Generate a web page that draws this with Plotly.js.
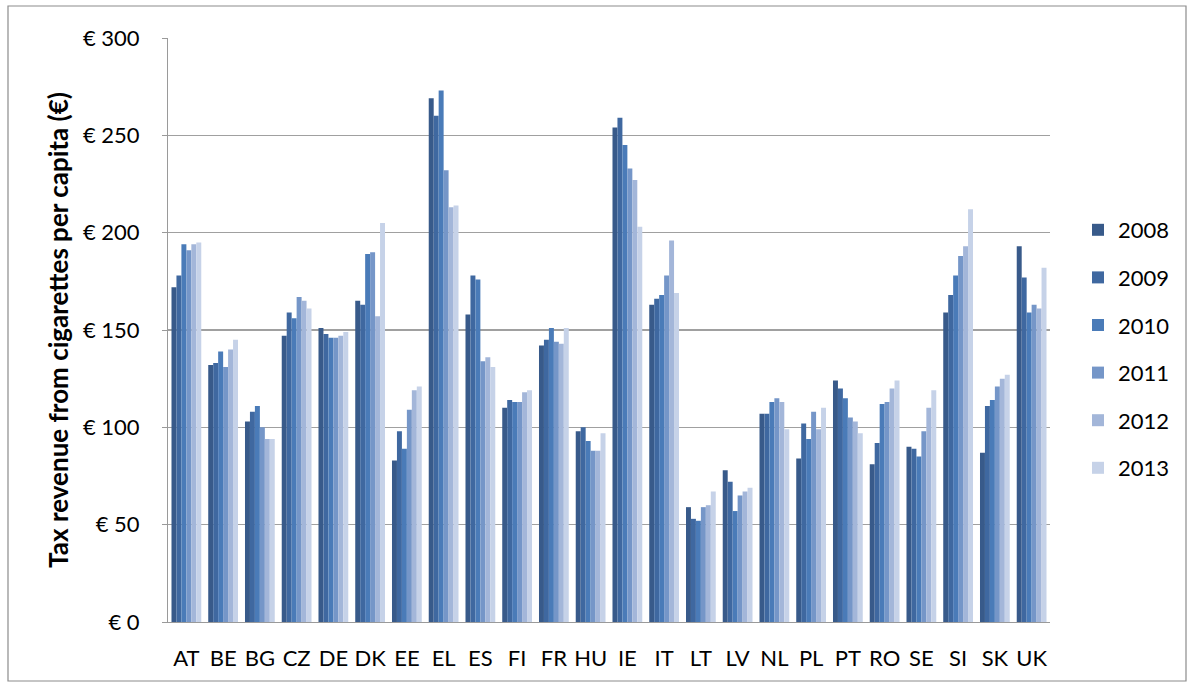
<!DOCTYPE html>
<html>
<head>
<meta charset="utf-8">
<script src="https://cdn.plot.ly/plotly-3.0.1.min.js"></script>
<style>
html,body{margin:0;padding:0;background:#fff;}
#chart{width:1192px;height:684px;}
</style>
</head>
<body>
<div id="chart"></div>
<script>
const countries = ["AT","BE","BG","CZ","DE","DK","EE","EL","ES","FI","FR","HU","IE","IT","LT","LV","NL","PL","PT","RO","SE","SI","SK","UK"];
const years = ["2008","2009","2010","2011","2012","2013"];

const v2008 = [172,132,103,147,151,165,83,269,158,110,142,98,254,163,59,78,107,84,124,81,90,159,87,193];
const v2009 = [178,133,108,159,148,163,98,260,178,114,145,100,259,166,53,72,107,102,120,92,89,168,111,177];
const v2010 = [194,139,111,156,146,189,89,273,176,113,151,93,245,168,52,57,113,94,115,112,85,178,114,159];
const v2011 = [191,131,100,167,146,190,109,232,134,113,144,88,233,178,59,65,115,108,105,113,98,188,121,163];
const v2012 = [194,140,94,165,147,157,119,213,136,118,143,88,227,196,60,67,113,99,103,120,110,193,125,161];
const v2013 = [195,145,94,161,149,205,121,214,131,119,151,97,203,169,67,69,99,110,97,124,119,212,127,182];

const seriesValues = [v2008, v2009, v2010, v2011, v2012, v2013];
const colors = ["#385a8a","#3f68a0","#4a7bb8","#7596c8","#a3b6d9","#c6d2e8"];
const yTicks = [0,50,100,150,200,250,300];

const traces = years.map((yr, i) => ({
  type: "bar",
  name: yr,
  x: countries,
  y: seriesValues[i],
  marker: {color: colors[i], line: {width: 0}},
  legendgroup: "g" + i,
  hoverinfo: "x+y+name"
}));

const W = 1192, H = 684;
const L = 168, R = 142, T = 38, B = 62;
const pw = W - L - R, ph = H - T - B;
const px = x => (x - L) / pw;
const py = y => (H - B - y) / ph;

const layout = {
  width: W, height: H,
  margin: {l: L, r: R, t: T, b: B, pad: 0},
  paper_bgcolor: "#ffffff",
  plot_bgcolor: "#ffffff",
  font: {family: "Lato, 'Open Sans', sans-serif", size: 22, color: "#000000"},
  barmode: "group",
  bargap: 0.19,
  bargroupgap: 0,
  showlegend: true,
  legend: {
    x: px(1078), xanchor: "left",
    y: py(349), yanchor: "middle",
    traceorder: "grouped",
    tracegroupgap: 16,
    font: {size: 22, color: "#000"},
    bgcolor: "rgba(0,0,0,0)",
    itemwidth: 30
  },
  xaxis: {
    type: "category",
    categoryorder: "array",
    categoryarray: countries,
    showgrid: false,
    showline: true,
    linecolor: "#9a9a9a",
    linewidth: 1,
    ticks: "",
    tickfont: {size: 22, color: "#000"},
    ticklabelstandoff: 17,
    zeroline: false
  },
  yaxis: {
    range: [0, 300],
    tickvals: yTicks,
    ticktext: yTicks.map(v => "€ " + v),
    showgrid: true,
    gridcolor: "#a0a0a0",
    gridwidth: 1.5,
    showline: true,
    linecolor: "#9a9a9a",
    linewidth: 1,
    ticks: "outside",
    ticklen: 5,
    tickcolor: "#9a9a9a",
    tickfont: {size: 22, color: "#000"},
    ticklabelstandoff: 18,
    zeroline: false,
    title: {
      text: "<b>Tax revenue from cigarettes per capita (€)</b>",
      font: {size: 26, color: "#000", family: "Lato, 'Open Sans', sans-serif"},
      standoff: 6
    }
  },
  shapes: [{
    type: "rect",
    xref: "paper", yref: "paper",
    x0: px(8), x1: px(1186),
    y0: py(681), y1: py(6),
    line: {color: "#8c8c8c", width: 1.2},
    fillcolor: "rgba(0,0,0,0)",
    layer: "below"
  }]
};

Plotly.newPlot("chart", traces, layout, {displayModeBar: false, staticPlot: true});
</script>
</body>
</html>
